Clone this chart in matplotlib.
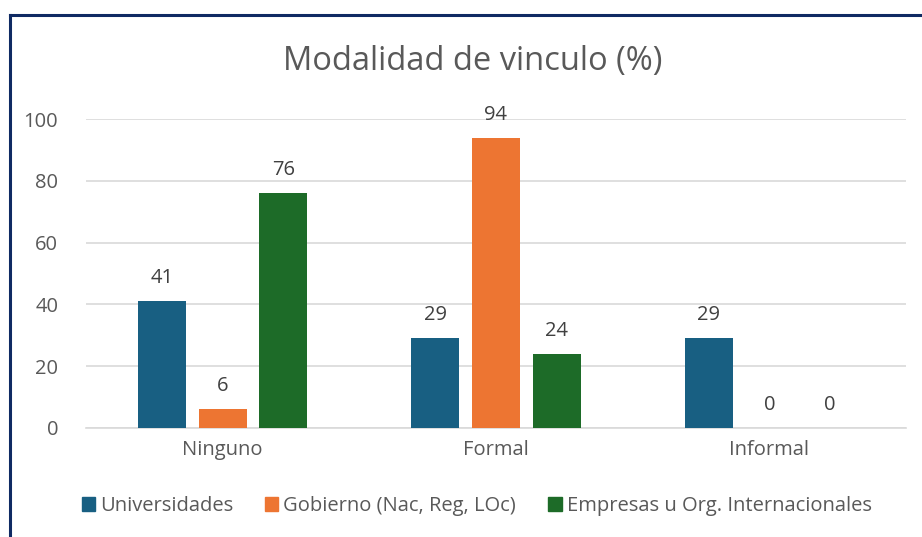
import numpy as np
import matplotlib.pyplot as plt
from matplotlib.lines import Line2D

categories = ['Ninguno', 'Formal', 'Informal']
series_names = ['Universidades', 'Gobierno (Nac, Reg, LOc)', 'Empresas u Org. Internacionales']
universidades = [41, 29, 29]
gobierno = [6, 94, 0]
empresas = [76, 24, 0]
colors = ['#185F82', '#ED7532', '#1D6B28']

plt.rcParams['font.family'] = ['Open Sans', 'DejaVu Sans']
grey = '#595959'

fig = plt.figure(figsize=(9.22, 5.37), dpi=100)
ax = fig.add_axes([0.0933, 0.203, 0.8893, 0.575])

x = np.arange(len(categories))
width = 0.175
offset = 0.222
for i, (vals, name) in enumerate(zip([universidades, gobierno, empresas], series_names)):
    pos = x + (i - 1) * offset
    ax.bar(pos, vals, width, color=colors[i], label=name, zorder=3)
    for p, v in zip(pos, vals):
        ax.text(p, v + 4.2, str(v), ha='center', va='bottom', fontsize=14.5,
                color='#404040', clip_on=False)

ax.set_xlim(-0.5, 2.5)
ax.set_ylim(0, 100)
ax.set_yticks(range(0, 101, 20))
ax.yaxis.grid(True, color='#d9d9d9', linewidth=1.2, zorder=0)
ax.set_xticks(x)
ax.set_xticklabels(categories)
ax.tick_params(axis='both', length=0, labelsize=14.5, labelcolor=grey)
ax.tick_params(axis='y', pad=20)
ax.tick_params(axis='x', pad=9)
for s in ['top', 'right', 'left']:
    ax.spines[s].set_visible(False)
ax.spines['bottom'].set_color('#d9d9d9')
ax.spines['bottom'].set_linewidth(1.2)

fig.text(0.513, 0.886, 'Modalidad de vinculo (%)', ha='center', va='center',
         fontsize=23.5, color=grey)

handles = [plt.Rectangle((0, 0), 1, 1, color=c) for c in colors]
fig.legend(handles, series_names, loc='center', bbox_to_anchor=(0.517, 0.058),
           ncol=3, frameon=False, fontsize=14.5, handlelength=0.65, handleheight=0.65,
           handletextpad=0.25, columnspacing=1.6, labelcolor=grey)

# frame lines top and left
fig.add_artist(Line2D([10 / 922, 1], [1 - 15 / 537] * 2, color='#0f2a63', linewidth=2.2))
fig.add_artist(Line2D([10 / 922] * 2, [0, 1 - 15 / 537], color='#0f2a63', linewidth=2.2))

fig.savefig('out.png', dpi=100)
